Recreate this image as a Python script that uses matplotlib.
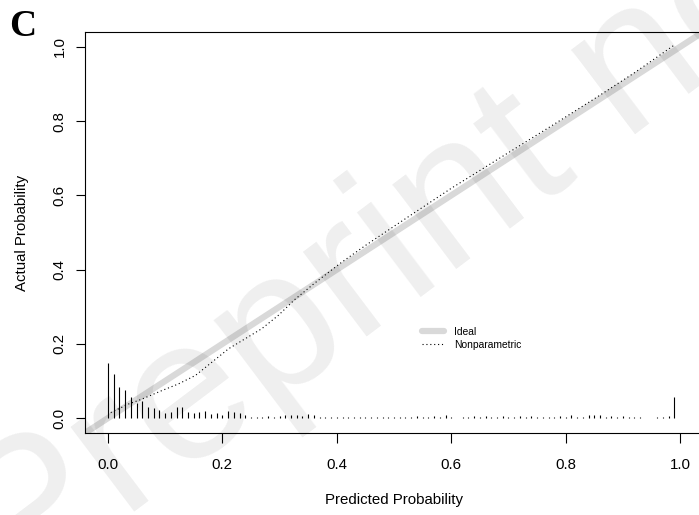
import numpy as np
import matplotlib
matplotlib.use("Agg")
from matplotlib import pyplot as plt

plt.rcParams['font.family'] = ['Liberation Sans', 'DejaVu Sans']

# calibration curve (nonparametric smoother)
pred_prob = [0.005, 0.036, 0.059, 0.094, 0.123, 0.153, 0.182, 0.211, 0.240,
             0.269, 0.298, 0.327, 0.360, 0.406, 0.450, 0.511, 0.600, 0.700,
             0.774, 0.850, 0.920, 0.990]
actual_prob = [0.015, 0.038, 0.051, 0.074, 0.092, 0.115, 0.151, 0.187, 0.214,
               0.241, 0.277, 0.320, 0.362, 0.417, 0.465, 0.528, 0.619, 0.715,
               0.786, 0.860, 0.930, 1.005]

# spike histogram of predicted probabilities (bins of 0.01)
spike_x = np.round(np.arange(0, 1.0, 0.01), 2)
spike_h = [0.149, 0.120, 0.084, 0.077, 0.056, 0.041, 0.045, 0.030, 0.027, 0.022,
           0.014, 0.016, 0.031, 0.031, 0.016, 0.014, 0.016, 0.018, 0.011, 0.014,
           0.009, 0.018, 0.016, 0.014, 0.009, 0.003, 0.003, 0.004, 0.005, 0.003,
           0.006, 0.008, 0.008, 0.009, 0.007, 0.010, 0.008, 0.004, 0.004, 0.004,
           0.004, 0.003, 0.004, 0.003, 0.004, 0.004, 0.003, 0.004, 0.004, 0.003,
           0.004, 0.004, 0.003, 0.004, 0.005, 0.004, 0.003, 0.006, 0.004, 0.009,
           0.003, 0.000, 0.003, 0.004, 0.006, 0.003, 0.007, 0.003, 0.004, 0.006,
           0.003, 0.004, 0.007, 0.004, 0.005, 0.004, 0.004, 0.003, 0.004, 0.006,
           0.004, 0.008, 0.003, 0.003, 0.008, 0.008, 0.008, 0.004, 0.005, 0.004,
           0.005, 0.004, 0.004, 0.003, 0.000, 0.000, 0.003, 0.004, 0.005, 0.056]

ticks = [0.0, 0.2, 0.4, 0.6, 0.8, 1.0]

fig = plt.figure(figsize=(6.99, 5.15), dpi=100)
ax = fig.add_axes([85 / 699, 82 / 515, 618 / 699, 401 / 515])

# ideal line
ax.axline((0, 0), (1, 1), color='#d9d9d9', lw=4.5, solid_capstyle='butt',
          label='Ideal', zorder=1)
ax.plot(pred_prob, actual_prob, color='black', lw=0.8, ls=(0, (1, 2.5)),
        label='Nonparametric', zorder=3)

sel = np.array(spike_h) > 0
ax.vlines(spike_x[sel], 0, np.array(spike_h)[sel], color='black', lw=0.8, zorder=2)

ax.set_xlim(-0.04, 1.04)
ax.set_ylim(-0.04, 1.04)
ax.set_xticks(ticks)
ax.set_yticks(ticks)
ax.set_xticklabels(['%.1f' % t for t in ticks])
ax.set_yticklabels(['%.1f' % t for t in ticks], rotation=90, va='center')
ax.tick_params(axis='x', length=7, width=0.8, pad=11, labelsize=10.8)
ax.tick_params(axis='y', length=6.5, width=0.8, pad=6.8, labelsize=10.8)
for s in ax.spines.values():
    s.set_linewidth(0.8)

ax.set_xlabel('Predicted Probability', fontsize=10.8)
ax.set_ylabel('Actual Probability', fontsize=10.8)
ax.xaxis.set_label_coords(0.5, (433 - 500) / 401)
ax.xaxis.label.set_va('center')
ax.yaxis.set_label_coords((22.5 - 85) / 618, 0.5)
ax.yaxis.label.set_va('center')

leg = ax.legend(loc='upper left', bbox_to_anchor=((422 - 85) / 618, (433 - 327) / 401),
                frameon=False, fontsize=7.4, handlelength=2.1, handletextpad=1.0,
                labelspacing=0.25, borderpad=0, borderaxespad=0)
leg.get_lines()[0].set_solid_capstyle('round')

fig.text(23 / 699, 1 - 26 / 515, 'C', family='Liberation Serif', weight='bold',
         fontsize=27, ha='center', va='center')

# watermark
fig.text(17 / 699, 1 - 600 / 515, 'Preprint not peer reviewed', rotation=37,
         rotation_mode='anchor', ha='left', va='baseline', fontsize=145,
         color='black', alpha=0.065, zorder=10)

fig.savefig('out.png', dpi=100)
